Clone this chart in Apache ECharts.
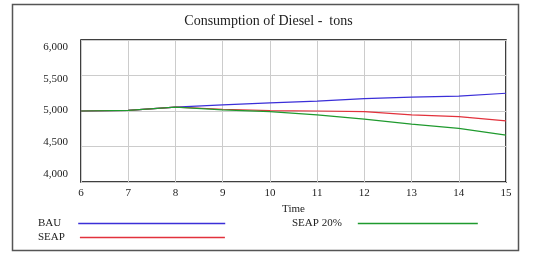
<!DOCTYPE html>
<html>
<head>
<meta charset="utf-8">
<script src="https://cdn.jsdelivr.net/npm/echarts@6/dist/echarts.min.js"></script>
<style>
  html, body { margin: 0; padding: 0; background: #fff; }
  #main { width: 537px; height: 253px; }
</style>
</head>
<body>
<div id="main"></div>
<script>
// values
const years = [6, 7, 8, 9, 10, 11, 12, 13, 14, 15];
const bau = [5000, 5010, 5055, 5085, 5115, 5140, 5175, 5195, 5210, 5250];
const seap = [5000, 5010, 5055, 5025, 5005, 5000, 4990, 4945, 4920, 4860];
const seap20 = [5000, 5010, 5055, 5015, 4990, 4945, 4885, 4815, 4755, 4660];
const yTicks = [4000, 4500, 5000, 5500, 6000];

const colors = { 'BAU': '#3b2fd8', 'SEAP': '#e2323c', 'SEAP 20%': '#1f9a2e' };
const font = 'Liberation Serif';
const myChart = echarts.init(document.getElementById('main'));

function pairs(vals) {
  return years.map((x, i) => [x, vals[i]]);
}

// text sits left of a long line, gap pushes the line to where it starts in the picture
function legendBox(name, left, top, gap, len) {
  return {
    data: [{ name: name, itemStyle: { color: colors[name] } }],
    left: left,
    top: top,
    padding: 0,
    orient: 'horizontal',
    align: 'right',
    icon: 'rect',
    itemWidth: len,
    itemHeight: 1.5,
    itemGap: 0,
    selectedMode: false,
    textStyle: { fontFamily: font, fontSize: 11, color: '#222', padding: [0, gap, 0, 0] }
  };
}

myChart.setOption({
  animation: false,
  backgroundColor: '#fff',
  title: {
    text: 'Consumption of Diesel -  tons',
    left: 'center',
    top: 9,
    textStyle: { fontFamily: font, fontSize: 14, fontWeight: 'normal', color: '#222' }
  },
  graphic: [{
    type: 'rect',
    shape: { x: 12.5, y: 4.5, width: 506, height: 246 },
    style: { fill: 'none', stroke: '#555', lineWidth: 1.5 }
  }],
  legend: [
    legendBox('BAU', 38, 218, 12, 147),
    legendBox('SEAP', 38, 232, 10, 145),
    legendBox('SEAP 20%', 292, 218, 11, 120)
  ],
  grid: [
    { left: 81, top: 40, width: 425, height: 142, show: true, borderColor: '#000', borderWidth: 1.5 },
    // labels only: the picture prints the tick labels a bit inside the gridlines
    { left: 81, top: 47, width: 425, height: 127 }
  ],
  xAxis: [{
    gridIndex: 0,
    type: 'value',
    min: 6, max: 15, interval: 1,
    name: 'Time',
    nameLocation: 'middle',
    nameGap: 20,
    nameTextStyle: { fontFamily: font, fontSize: 11, color: '#222' },
    axisLine: { show: false },
    axisTick: { show: false },
    splitLine: { show: true, lineStyle: { color: '#ccc', width: 1 } },
    axisLabel: { fontFamily: font, fontSize: 11, color: '#222', margin: 6 }
  }, {
    gridIndex: 1,
    type: 'value', min: 6, max: 15, show: false
  }],
  yAxis: [{
    gridIndex: 0,
    type: 'value',
    min: 4000, max: 6000, interval: 500,
    axisLine: { show: false },
    axisTick: { show: false },
    axisLabel: { show: false },
    splitLine: { show: true, lineStyle: { color: '#ccc', width: 1 } }
  }, {
    gridIndex: 1,
    type: 'value',
    min: yTicks[0], max: yTicks[yTicks.length - 1], interval: 500,
    axisLine: { show: false },
    axisTick: { show: false },
    splitLine: { show: false },
    axisLabel: {
      fontFamily: font, fontSize: 11, color: '#222', margin: 13,
      formatter: v => v.toLocaleString('en-US')
    }
  }],
  series: [
    { name: 'BAU', type: 'line', data: pairs(bau) },
    { name: 'SEAP', type: 'line', data: pairs(seap) },
    { name: 'SEAP 20%', type: 'line', data: pairs(seap20) }
  ].map(s => Object.assign(s, {
    color: colors[s.name],
    xAxisIndex: 0, yAxisIndex: 0,
    symbol: 'none',
    lineStyle: { width: 1.2 }
  }))
});
</script>
</body>
</html>
